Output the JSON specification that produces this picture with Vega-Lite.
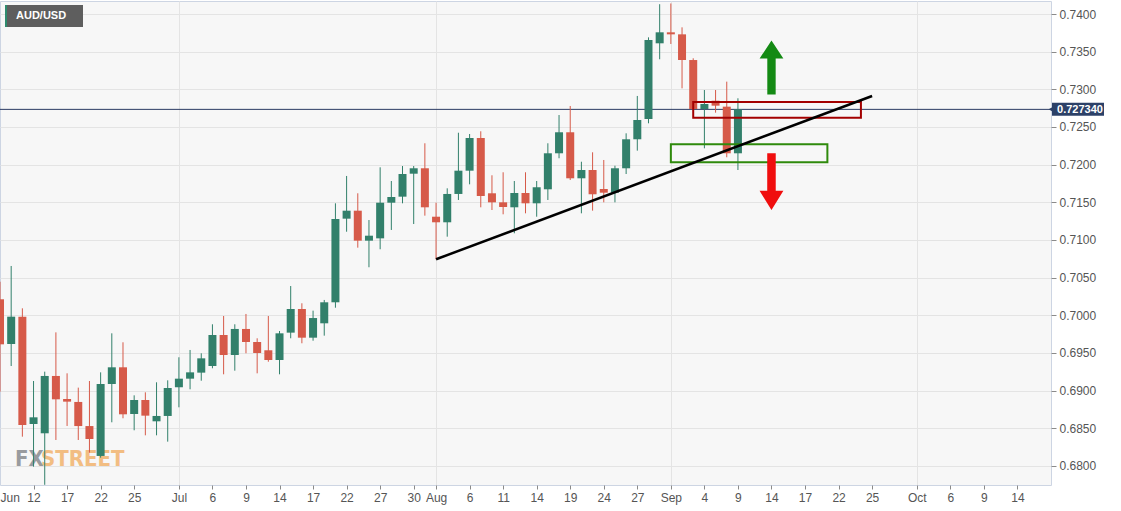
{
  "$schema": "https://vega.github.io/schema/vega-lite/v6.json",
  "width": 1051,
  "height": 484,
  "autosize": {"type": "none"},
  "padding": {"left": 0, "top": 1, "right": 70, "bottom": 26},
  "background": "#ffffff",
  "config": {
    "view": {"fill": "#f7f7f7", "stroke": "#cdd5e3", "strokeWidth": 1},
    "axis": {"labelFont": "Liberation Sans", "labelFontSize": 12, "labelColor": "#555555", "tickColor": "#8a8a8a", "gridColor": "#e4e4e4", "domain": false}
  },
  "datasets": {
    "candles": [
      {"d":"2020-06-09","o":0.70213,"h":0.70446,"l":0.68986,"c":0.69615},
      {"d":"2020-06-10","o":0.69619,"h":0.70655,"l":0.69327,"c":0.69982},
      {"d":"2020-06-11","o":0.69982,"h":0.70093,"l":0.68389,"c":0.68544},
      {"d":"2020-06-12","o":0.68557,"h":0.69128,"l":0.67991,"c":0.68646},
      {"d":"2020-06-15","o":0.68434,"h":0.69252,"l":0.6775,"c":0.69195},
      {"d":"2020-06-16","o":0.69195,"h":0.69774,"l":0.68345,"c":0.68885},
      {"d":"2020-06-17","o":0.68889,"h":0.6923,"l":0.68531,"c":0.68854},
      {"d":"2020-06-18","o":0.6885,"h":0.6904,"l":0.68345,"c":0.6853},
      {"d":"2020-06-19","o":0.6853,"h":0.69128,"l":0.68177,"c":0.68358},
      {"d":"2020-06-22","o":0.68133,"h":0.69243,"l":0.6811,"c":0.69088},
      {"d":"2020-06-23","o":0.69088,"h":0.69761,"l":0.6858,"c":0.6931},
      {"d":"2020-06-24","o":0.6931,"h":0.69642,"l":0.68633,"c":0.68686},
      {"d":"2020-06-25","o":0.6869,"h":0.68938,"l":0.68474,"c":0.68876},
      {"d":"2020-06-26","o":0.68876,"h":0.68978,"l":0.68407,"c":0.68668},
      {"d":"2020-06-29","o":0.68593,"h":0.69111,"l":0.68407,"c":0.68664},
      {"d":"2020-06-30","o":0.68664,"h":0.69137,"l":0.68323,"c":0.69035},
      {"d":"2020-07-01","o":0.69045,"h":0.69443,"l":0.68779,"c":0.69159},
      {"d":"2020-07-02","o":0.69159,"h":0.6954,"l":0.69018,"c":0.69243},
      {"d":"2020-07-03","o":0.69239,"h":0.69496,"l":0.69132,"c":0.69429},
      {"d":"2020-07-06","o":0.69327,"h":0.69881,"l":0.69297,"c":0.69739},
      {"d":"2020-07-07","o":0.69739,"h":0.69991,"l":0.69217,"c":0.69473},
      {"d":"2020-07-08","o":0.69473,"h":0.69881,"l":0.69265,"c":0.69819},
      {"d":"2020-07-09","o":0.69819,"h":0.70018,"l":0.69496,"c":0.69646},
      {"d":"2020-07-10","o":0.69646,"h":0.69695,"l":0.6923,"c":0.695},
      {"d":"2020-07-13","o":0.69536,"h":0.69991,"l":0.69384,"c":0.69407},
      {"d":"2020-07-14","o":0.69407,"h":0.69792,"l":0.69217,"c":0.69761},
      {"d":"2020-07-15","o":0.6977,"h":0.70389,"l":0.69695,"c":0.70084},
      {"d":"2020-07-16","o":0.70084,"h":0.7016,"l":0.69629,"c":0.69703},
      {"d":"2020-07-17","o":0.69703,"h":0.70062,"l":0.69663,"c":0.69964},
      {"d":"2020-07-20","o":0.69894,"h":0.70204,"l":0.6973,"c":0.70173},
      {"d":"2020-07-21","o":0.70173,"h":0.71487,"l":0.70101,"c":0.71279},
      {"d":"2020-07-22","o":0.71283,"h":0.7185,"l":0.7111,"c":0.71389},
      {"d":"2020-07-23","o":0.71389,"h":0.7162,"l":0.70898,"c":0.70991},
      {"d":"2020-07-24","o":0.70991,"h":0.71265,"l":0.70638,"c":0.71057},
      {"d":"2020-07-27","o":0.71022,"h":0.71965,"l":0.70877,"c":0.71495},
      {"d":"2020-07-28","o":0.71495,"h":0.71783,"l":0.71133,"c":0.71571},
      {"d":"2020-07-29","o":0.71575,"h":0.71982,"l":0.71487,"c":0.71876},
      {"d":"2020-07-30","o":0.7188,"h":0.71982,"l":0.71212,"c":0.71952},
      {"d":"2020-07-31","o":0.71952,"h":0.72284,"l":0.71323,"c":0.71434},
      {"d":"2020-08-03","o":0.71309,"h":0.71495,"l":0.70744,"c":0.71235},
      {"d":"2020-08-04","o":0.71235,"h":0.71686,"l":0.71044,"c":0.71611},
      {"d":"2020-08-05","o":0.71611,"h":0.72424,"l":0.71531,"c":0.7192},
      {"d":"2020-08-06","o":0.7192,"h":0.72407,"l":0.71739,"c":0.72354},
      {"d":"2020-08-07","o":0.72354,"h":0.72443,"l":0.71434,"c":0.71584},
      {"d":"2020-08-10","o":0.7162,"h":0.71859,"l":0.71398,"c":0.715},
      {"d":"2020-08-11","o":0.715,"h":0.71899,"l":0.71341,"c":0.71438},
      {"d":"2020-08-12","o":0.71434,"h":0.71783,"l":0.71089,"c":0.71624},
      {"d":"2020-08-13","o":0.71624,"h":0.71899,"l":0.71354,"c":0.71487},
      {"d":"2020-08-14","o":0.71487,"h":0.71783,"l":0.71309,"c":0.717},
      {"d":"2020-08-17","o":0.71673,"h":0.72284,"l":0.71531,"c":0.72151},
      {"d":"2020-08-18","o":0.72151,"h":0.72659,"l":0.72085,"c":0.7243},
      {"d":"2020-08-19","o":0.7243,"h":0.72779,"l":0.71796,"c":0.71819},
      {"d":"2020-08-20","o":0.71819,"h":0.72039,"l":0.71354,"c":0.71929},
      {"d":"2020-08-21","o":0.71929,"h":0.72164,"l":0.71389,"c":0.71607},
      {"d":"2020-08-24","o":0.71677,"h":0.72062,"l":0.715,"c":0.71628},
      {"d":"2020-08-25","o":0.71628,"h":0.71986,"l":0.715,"c":0.71952},
      {"d":"2020-08-26","o":0.71952,"h":0.72416,"l":0.71876,"c":0.72337},
      {"d":"2020-08-27","o":0.72337,"h":0.72912,"l":0.72186,"c":0.72593},
      {"d":"2020-08-28","o":0.72606,"h":0.7369,"l":0.72549,"c":0.73655},
      {"d":"2020-08-31","o":0.73611,"h":0.7413,"l":0.73399,"c":0.73757},
      {"d":"2020-09-01","o":0.73757,"h":0.7414,"l":0.73602,"c":0.7373},
      {"d":"2020-09-02","o":0.7373,"h":0.73823,"l":0.73013,"c":0.73389},
      {"d":"2020-09-03","o":0.73389,"h":0.73412,"l":0.7273,"c":0.72739},
      {"d":"2020-09-04","o":0.72739,"h":0.72991,"l":0.72217,"c":0.72805},
      {"d":"2020-09-07","o":0.72849,"h":0.72991,"l":0.7269,"c":0.72783},
      {"d":"2020-09-08","o":0.7277,"h":0.73102,"l":0.72098,"c":0.72151},
      {"d":"2020-09-09","o":0.72151,"h":0.72881,"l":0.71929,"c":0.72734}
    ],
    "priceline": [{"d":"2020-06-09","d2":"2020-10-19","p":0.72734,"t":"0.727340"}],
    "pricelabel": [{"d":"2020-10-19","p":0.72734,"t":"0.727340"}],
    "trend": [{"d":"2020-08-03","p":0.70744},{"d":"2020-09-25","p":0.72912}],
    "redbox": [{"d":"2020-09-03","d2":"2020-09-24","p":0.72832,"p2":0.72624}],
    "greenbox": [{"d":"2020-09-01","d2":"2020-09-21","p":0.7227,"p2":0.72031}],
    "uparrow": [{"d":"2020-09-14","p":0.7329}],
    "downarrow": [{"d":"2020-09-14","p":0.71774}],
    "symbol": [{"d":"2020-06-09","p":0.741726,"t":"AUD/USD"}],
    "wm1": [{"d":"2020-06-09","p":0.68,"t":"FX"}],
    "wm2": [{"d":"2020-06-09","p":0.68,"t":"STREET"}]
  },
  "encoding": {
    "x": {
      "field": "d", "type": "ordinal", "title": null,
      "scale": {"type": "point", "padding": 0, "domain": [
        "2020-06-09","2020-06-10","2020-06-11","2020-06-12","2020-06-15","2020-06-16","2020-06-17","2020-06-18","2020-06-19","2020-06-22","2020-06-23","2020-06-24","2020-06-25","2020-06-26","2020-06-29","2020-06-30",
        "2020-07-01","2020-07-02","2020-07-03","2020-07-06","2020-07-07","2020-07-08","2020-07-09","2020-07-10","2020-07-13","2020-07-14","2020-07-15","2020-07-16","2020-07-17","2020-07-20","2020-07-21","2020-07-22","2020-07-23","2020-07-24","2020-07-27","2020-07-28","2020-07-29","2020-07-30","2020-07-31",
        "2020-08-03","2020-08-04","2020-08-05","2020-08-06","2020-08-07","2020-08-10","2020-08-11","2020-08-12","2020-08-13","2020-08-14","2020-08-17","2020-08-18","2020-08-19","2020-08-20","2020-08-21","2020-08-24","2020-08-25","2020-08-26","2020-08-27","2020-08-28","2020-08-31",
        "2020-09-01","2020-09-02","2020-09-03","2020-09-04","2020-09-07","2020-09-08","2020-09-09","2020-09-10","2020-09-11","2020-09-14","2020-09-15","2020-09-16","2020-09-17","2020-09-18","2020-09-21","2020-09-22","2020-09-23","2020-09-24","2020-09-25","2020-09-28","2020-09-29","2020-09-30",
        "2020-10-01","2020-10-02","2020-10-05","2020-10-06","2020-10-07","2020-10-08","2020-10-09","2020-10-12","2020-10-13","2020-10-14","2020-10-15","2020-10-16","2020-10-19"]},
      "axis": {
        "orient": "bottom",
        "values": ["2020-06-09","2020-06-12","2020-06-17","2020-06-22","2020-06-25","2020-07-01","2020-07-06","2020-07-09","2020-07-14","2020-07-17","2020-07-22","2020-07-27","2020-07-30","2020-08-03","2020-08-06","2020-08-11","2020-08-14","2020-08-19","2020-08-24","2020-08-27","2020-09-01","2020-09-04","2020-09-09","2020-09-14","2020-09-17","2020-09-22","2020-09-25","2020-10-01","2020-10-06","2020-10-09","2020-10-14"],
        "labelExpr": "(datum.value == '2020-06-09' || indexof(['2020-07-01','2020-08-03','2020-09-01','2020-10-01'], datum.value) >= 0) ? utcFormat(toDate(datum.value), '%b') : utcFormat(toDate(datum.value), '%-d')",
        "labelAngle": 0,
        "labelFlush": true,
        "labelOverlap": false,
        "labelPadding": 3,
        "tickSize": 4,
        "tickOpacity": {"condition": {"test": "datum.value == '2020-06-09'", "value": 0}, "value": 1},
        "grid": true,
        "gridOpacity": {"condition": {"test": "indexof(['2020-07-01','2020-08-03','2020-09-01','2020-10-01'], datum.value) >= 0", "value": 1}, "value": 0}
      }
    },
    "y": {
      "field": "p", "type": "quantitative", "title": null,
      "scale": {"domain": [0.677475, 0.741726], "nice": false, "zero": false},
      "axis": {
        "orient": "right",
        "values": [0.68,0.685,0.69,0.695,0.70,0.705,0.71,0.715,0.72,0.725,0.73,0.735,0.74],
        "format": ".4f",
        "grid": true,
        "tickSize": 5,
        "labelPadding": 3
      }
    }
  },
  "layer": [
    {"data": {"name": "wm1"}, "mark": {"type": "text", "align": "left", "baseline": "alphabetic", "dx": 15, "font": "DejaVu Sans Condensed", "fontWeight": "bold", "fontSize": 22, "color": "#8f9296", "opacity": 0.9}, "encoding": {"text": {"field": "t"}}},
    {"data": {"name": "wm2"}, "mark": {"type": "text", "align": "left", "baseline": "alphabetic", "dx": 41, "font": "DejaVu Sans Condensed", "fontWeight": "bold", "fontSize": 22, "color": "#f2b46e", "opacity": 0.85}, "encoding": {"text": {"field": "t"}}},
    {"data": {"name": "priceline"}, "mark": {"type": "rule", "color": "#2a3a63", "strokeWidth": 1}, "encoding": {"x2": {"field": "d2"}}},
    {"data": {"name": "candles"}, "mark": {"type": "rule", "strokeWidth": 1},
     "encoding": {"y": {"field": "l", "type": "quantitative"}, "y2": {"field": "h"},
       "color": {"condition": {"test": "datum.c >= datum.o", "value": "#32806b"}, "value": "#d65a49"}}},
    {"data": {"name": "candles"}, "mark": {"type": "bar", "width": 8},
     "encoding": {"y": {"field": "o", "type": "quantitative"}, "y2": {"field": "c"},
       "color": {"condition": {"test": "datum.c >= datum.o", "value": "#32806b"}, "value": "#d65a49"}}},
    {"data": {"name": "redbox"}, "mark": {"type": "rect", "fillOpacity": 0, "stroke": "#a30000", "strokeWidth": 2},
     "encoding": {"x2": {"field": "d2"}, "y2": {"field": "p2"}}},
    {"data": {"name": "greenbox"}, "mark": {"type": "rect", "fillOpacity": 0, "stroke": "#2f8a0c", "strokeWidth": 2},
     "encoding": {"x2": {"field": "d2"}, "y2": {"field": "p2"}}},
    {"data": {"name": "trend"}, "mark": {"type": "line", "color": "#000000", "strokeWidth": 2.5}},
    {"data": {"name": "uparrow"}, "mark": {"type": "point", "filled": true, "opacity": 1, "color": "#148a14", "size": 2916,
      "shape": "M -0.155 1 L 0.155 1 L 0.155 -0.33 L 0.44 -0.33 L 0 -1 L -0.44 -0.33 L -0.155 -0.33 Z"}},
    {"data": {"name": "downarrow"}, "mark": {"type": "point", "filled": true, "opacity": 1, "color": "#f00e0e", "size": 3215,
      "shape": "M -0.15 -1 L 0.15 -1 L 0.15 0.32 L 0.42 0.32 L 0 1 L -0.42 0.32 L -0.15 0.32 Z"}},
    {"data": {"name": "pricelabel"}, "mark": {"type": "point", "filled": true, "opacity": 1, "shape": "triangle-left", "size": 60, "xOffset": 1, "color": "#2c4168"}},
    {"data": {"name": "pricelabel"}, "mark": {"type": "tick", "orient": "horizontal", "size": 52, "thickness": 13, "xOffset": 27, "color": "#2c4168", "opacity": 1}},
    {"data": {"name": "pricelabel"}, "mark": {"type": "text", "align": "center", "baseline": "middle", "xOffset": 29, "yOffset": 0.5, "font": "Liberation Sans", "fontWeight": "bold", "fontSize": 11, "color": "#ffffff"}, "encoding": {"text": {"field": "t"}}},
    {"data": {"name": "symbol"}, "mark": {"type": "tick", "orient": "horizontal", "size": 78, "thickness": 22, "xOffset": 44, "yOffset": 15, "color": "#5e5e5e", "opacity": 1}},
    {"data": {"name": "symbol"}, "mark": {"type": "tick", "orient": "horizontal", "size": 2, "thickness": 22, "xOffset": 6, "yOffset": 15, "color": "#2e8b6e", "opacity": 1}},
    {"data": {"name": "symbol"}, "mark": {"type": "text", "align": "left", "baseline": "middle", "xOffset": 16, "yOffset": 15, "font": "Liberation Sans", "fontWeight": "bold", "fontSize": 11, "color": "#ffffff"}, "encoding": {"text": {"field": "t"}}}
  ]
}
